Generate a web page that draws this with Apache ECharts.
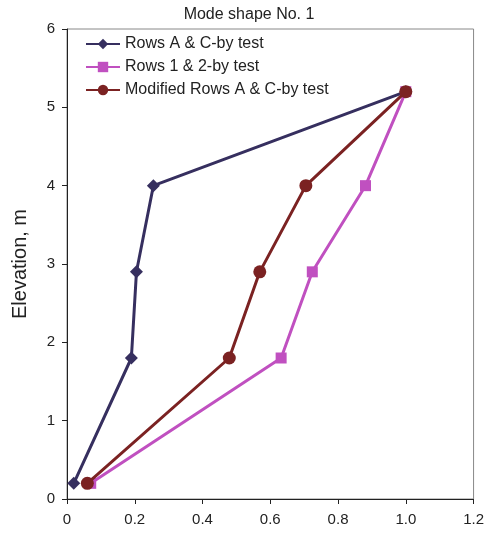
<!DOCTYPE html>
<html><head><meta charset="utf-8">
<script src="https://cdn.jsdelivr.net/npm/echarts@6/dist/echarts.min.js"></script>
<style>html,body{margin:0;padding:0;background:#fff}#c{width:487px;height:537px}</style>
</head><body><div id="c"></div>
<script>
const elevations = [0.2, 1.8, 2.9, 4.0, 5.2];
const rowsAC = [0.02, 0.19, 0.205, 0.255, 1.0];
const rows12 = [0.07, 0.632, 0.724, 0.881, 1.0];
const modAC = [0.06, 0.479, 0.569, 0.705, 1.0];
const seriesNames = ['Rows A & C-by test', 'Rows 1 & 2-by test', 'Modified Rows A & C-by test'];
const colors = ['#362f5f', '#c050c0', '#7b2222'];
const symbols = ['diamond', 'rect', 'circle'];
const symbolSizes = [13, 11, 13];
const pairs = a => a.map((x, i) => [x, elevations[i]]);
const allData = [rowsAC, rows12, modAC];
const font = "'Liberation Sans', Arial, sans-serif";
const chart = echarts.init(document.getElementById('c'), null, {renderer: 'canvas'});
chart.setOption({
  animation: false,
  title: {text: 'Mode shape No. 1', left: 249, top: 7, padding: 0, textAlign: 'center',
    textStyle: {fontFamily: font, fontSize: 16, fontWeight: 'normal', color: '#222'}},
  grid: {left: 67, right: 12, top: 29, bottom: 38, show: true, borderColor: '#888', borderWidth: 1},
  legend: {
    orient: 'vertical', left: 85, top: 36, padding: 0, itemGap: 7, itemWidth: 34, itemHeight: 13,
    textStyle: {fontFamily: font, fontSize: 16, color: '#222'},
    data: seriesNames
  },
  xAxis: {
    type: 'value', min: 0, max: 1.2, interval: 0.2,
    axisLine: {show: true, lineStyle: {color: '#222', width: 1}},
    axisTick: {show: true, length: 5, lineStyle: {color: '#222'}},
    splitLine: {show: false},
    axisLabel: {fontFamily: font, fontSize: 15, color: '#222', margin: 13,
      formatter: v => v === 0 ? '0' : v.toFixed(1)}
  },
  yAxis: {
    type: 'value', min: 0, max: 6, interval: 1,
    name: 'Elevation, m', nameLocation: 'middle', nameGap: 37, nameRotate: 90,
    nameTextStyle: {fontFamily: font, fontSize: 20, color: '#222'},
    axisLine: {show: true, lineStyle: {color: '#222', width: 1}},
    axisTick: {show: true, length: 5, lineStyle: {color: '#222'}},
    splitLine: {show: false},
    axisLabel: {fontFamily: font, fontSize: 15, color: '#222', margin: 12}
  },
  series: allData.map((d, i) => ({
    name: seriesNames[i], type: 'line', data: pairs(d),
    symbol: symbols[i], symbolSize: symbolSizes[i], showAllSymbol: true,
    lineStyle: {color: colors[i], width: 3},
    itemStyle: {color: colors[i], borderWidth: 0},
    z: 1 + i
  }))
});
</script></body></html>
